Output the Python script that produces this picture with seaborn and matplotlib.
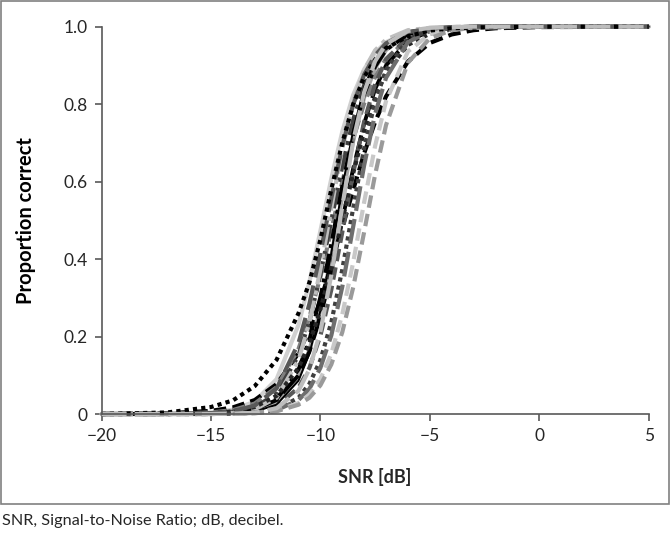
import numpy as np
import pandas as pd
import seaborn as sns
import matplotlib.pyplot as plt
from matplotlib.patches import Rectangle

# x grid (SNR in dB) and proportion correct for each listener curve
snr_db = [-20, -17, -15, -14, -13, -12, -11, -10.5, -10, -9.5, -9, -8.5, -8, -7.5, -7, -6, -5, -4, -3, -2, 0, 5]

p_a = [0.0, 0.004, 0.018, 0.035, 0.072, 0.140, 0.260, 0.340, 0.450, 0.580, 0.700, 0.800, 0.870, 0.915, 0.945, 0.975, 0.990, 0.996, 0.998, 0.999, 1.0, 1.0]
p_b = [0.0, 0.0, 0.002, 0.007, 0.022, 0.066, 0.183, 0.285, 0.415, 0.557, 0.691, 0.799, 0.876, 0.926, 0.957, 0.986, 0.995, 0.999, 1.0, 1.0, 1.0, 1.0]
p_c = [0.0, 0.002, 0.008, 0.017, 0.036, 0.077, 0.157, 0.218, 0.293, 0.382, 0.480, 0.579, 0.673, 0.754, 0.820, 0.910, 0.958, 0.980, 0.991, 0.996, 0.999, 1.0]
p_d = [0.0, 0.0, 0.0, 0.001, 0.002, 0.007, 0.024, 0.042, 0.074, 0.128, 0.211, 0.327, 0.470, 0.618, 0.746, 0.907, 0.970, 0.991, 0.997, 0.999, 1.0, 1.0]
p_e = [0.0, 0.0, 0.0, 0.001, 0.002, 0.008, 0.028, 0.050, 0.090, 0.156, 0.257, 0.392, 0.547, 0.692, 0.808, 0.936, 0.981, 0.994, 0.998, 0.999, 1.0, 1.0]
p_f = [0.0, 0.0, 0.004, 0.011, 0.032, 0.090, 0.230, 0.341, 0.473, 0.608, 0.729, 0.824, 0.890, 0.933, 0.960, 0.986, 0.995, 0.998, 1.0, 1.0, 1.0, 1.0]
p_g = [0.0, 0.0, 0.002, 0.006, 0.017, 0.053, 0.151, 0.240, 0.360, 0.500, 0.640, 0.760, 0.849, 0.909, 0.947, 0.982, 0.994, 0.998, 1.0, 1.0, 1.0, 1.0]
p_h = [0.0, 0.0, 0.001, 0.004, 0.012, 0.036, 0.100, 0.161, 0.250, 0.366, 0.500, 0.634, 0.750, 0.839, 0.900, 0.964, 0.988, 0.996, 0.999, 1.0, 1.0, 1.0]
p_i = [0.0, 0.0, 0.0, 0.002, 0.006, 0.024, 0.086, 0.156, 0.267, 0.416, 0.584, 0.733, 0.844, 0.914, 0.954, 0.988, 0.997, 0.999, 1.0, 1.0, 1.0, 1.0]
p_j = [0.0, 0.0, 0.0, 0.001, 0.003, 0.012, 0.042, 0.078, 0.139, 0.237, 0.373, 0.532, 0.686, 0.807, 0.889, 0.967, 0.991, 0.997, 0.999, 1.0, 1.0, 1.0]
p_k = [0.0, 0.0, 0.001, 0.002, 0.009, 0.029, 0.095, 0.165, 0.269, 0.407, 0.562, 0.706, 0.818, 0.893, 0.940, 0.982, 0.995, 0.998, 1.0, 1.0, 1.0, 1.0]
p_l = [0.0, 0.001, 0.004, 0.010, 0.027, 0.069, 0.168, 0.250, 0.354, 0.475, 0.599, 0.711, 0.802, 0.870, 0.917, 0.968, 0.988, 0.995, 0.998, 0.999, 1.0, 1.0]
p_m = [0.0, 0.0, 0.0, 0.002, 0.006, 0.020, 0.068, 0.119, 0.202, 0.321, 0.469, 0.622, 0.755, 0.852, 0.915, 0.974, 0.992, 0.998, 1.0, 1.0, 1.0, 1.0]
p_n = [0.0, 0.0, 0.001, 0.003, 0.012, 0.042, 0.139, 0.237, 0.373, 0.532, 0.686, 0.807, 0.889, 0.939, 0.967, 0.991, 0.997, 0.999, 1.0, 1.0, 1.0, 1.0]
p_o = [0.0, 0.0, 0.002, 0.007, 0.018, 0.047, 0.119, 0.182, 0.269, 0.378, 0.500, 0.622, 0.731, 0.818, 0.881, 0.953, 0.982, 0.993, 0.998, 0.999, 1.0, 1.0]
p_p = [0.0, 0.0, 0.001, 0.004, 0.012, 0.038, 0.115, 0.192, 0.302, 0.440, 0.589, 0.723, 0.826, 0.897, 0.940, 0.981, 0.994, 0.998, 1.0, 1.0, 1.0, 1.0]
p_q = [0.0, 0.0, 0.0, 0.001, 0.003, 0.010, 0.036, 0.065, 0.119, 0.203, 0.328, 0.484, 0.642, 0.775, 0.868, 0.960, 0.989, 0.997, 0.999, 1.0, 1.0, 1.0]
p_r = [0.0, 0.0, 0.0, 0.001, 0.003, 0.015, 0.060, 0.116, 0.213, 0.359, 0.536, 0.705, 0.831, 0.911, 0.955, 0.989, 0.997, 0.999, 1.0, 1.0, 1.0, 1.0]

y_ticks = [0, 0.2, 0.4, 0.6, 0.8, 1.0]
y_tick_labels = ['0', '0.2', '0.4', '0.6', '0.8', '1.0']
x_ticks = [-20, -15, -10, -5, 0, 5]

curves = {'a': p_a, 'b': p_b, 'c': p_c, 'd': p_d, 'e': p_e, 'f': p_f,
          'g': p_g, 'h': p_h, 'i': p_i, 'j': p_j, 'k': p_k, 'l': p_l,
          'm': p_m, 'n': p_n, 'o': p_o, 'p': p_p, 'q': p_q, 'r': p_r}

df = pd.concat([pd.DataFrame({'snr': snr_db, 'p': v, 'curve': k}) for k, v in curves.items()])

# line looks (colour, dash pattern, width)
DOT = (0, (1, 1))
DASH = (0, (3, 1.5))
LONG = (0, (6, 2))
DDOT = (0, (5, 1.5, 1, 1.5))
SOLID = '-'
looks = {
    'f': ('#d0d0d0', SOLID, 3.0),
    'k': ('#a6a6a6', SOLID, 3.0),
    'c': ('#000000', DASH, 3.0),
    'l': ('#7f7f7f', DASH, 3.0),
    'h': ('#000000', LONG, 2.8),
    'g': ('#404040', DDOT, 3.0),
    'm': ('#595959', DASH, 3.0),
    'p': ('#000000', DDOT, 2.8),
    'i': ('#000000', SOLID, 1.4),
    'n': ('#bfbfbf', DDOT, 3.0),
    'o': ('#262626', DOT, 3.0),
    'j': ('#3f3f3f', DOT, 3.0),
    'q': ('#6e6e6e', LONG, 3.0),
    'e': ('#c8c8c8', DASH, 3.0),
    'd': ('#9a9a9a', DASH, 3.0),
    'b': ('#595959', LONG, 3.0),
    'a': ('#000000', DOT, 3.0),
    'r': ('#bdbdbd', LONG, 3.0),
}

sns.set_style('white')
plt.rcParams['font.family'] = ['Lato', 'DejaVu Sans']

fig = plt.figure(figsize=(6.7, 5.36), dpi=100)
ax = fig.add_axes([0.1515, 0.2276, 0.8167, 0.7226])

for name, (col, ls, lw) in looks.items():
    sub = df[df['curve'] == name]
    sns.lineplot(data=sub, x='snr', y='p', ax=ax, color=col, linestyle=ls,
                 linewidth=lw, dash_capstyle='butt', clip_on=False, legend=False)

ax.set_xlim(-20, 5)
ax.set_ylim(0, 1)
ax.set_xticks(x_ticks)
ax.set_yticks(y_ticks)
ax.set_yticklabels(y_tick_labels)
sns.despine(ax=ax)
for s in ['left', 'bottom']:
    ax.spines[s].set_color('#595959')
    ax.spines[s].set_linewidth(1.2)
ax.tick_params(direction='out', length=5, width=1.2, color='#595959',
               labelsize=12.5, labelcolor='#262626', pad=5, left=True, bottom=True)

ax.set_xlabel('SNR [dB]', fontsize=13, fontweight='bold', color='#262626', labelpad=17)
ax.set_ylabel('Proportion correct', fontsize=14.5, fontweight='bold', color='#000000', labelpad=20)

# frame around the chart and caption underneath
fig.add_artist(Rectangle((0.001, 1 - 504 / 536), 0.997, 504 / 536 - 0.002,
                         transform=fig.transFigure, fill=False,
                         edgecolor='#808080', linewidth=1.2))
fig.text(0.003, 1 - 521 / 536, 'SNR, Signal-to-Noise Ratio; dB, decibel.',
         fontsize=11.7, color='#262626', va='center', ha='left')

fig.savefig('out.png', dpi=100)
